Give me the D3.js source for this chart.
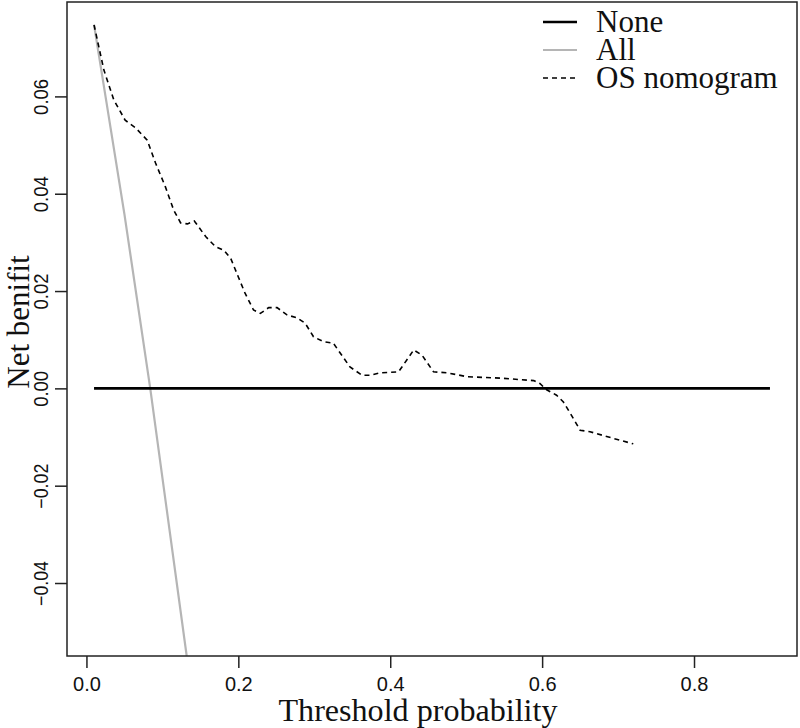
<!DOCTYPE html>
<html>
<head>
<meta charset="utf-8">
<script src="https://cdn.jsdelivr.net/npm/d3@7"></script>
<style>
  html, body { margin: 0; padding: 0; background: #fff; }
  svg { display: block; }
</style>
</head>
<body>
<svg id="chart" width="800" height="728"></svg>
<script>
// ---- data ----
const xTicks = [0.0, 0.2, 0.4, 0.6, 0.8];
const yTicks = [-0.04, -0.02, 0.00, 0.02, 0.04, 0.06];

const noneX = [0.01, 0.90];
const noneY = [0, 0];

const allX = [0.01, 0.05, 0.084, 0.132];
const allY = [0.0747, 0.0358, 0.0, -0.055];

const osX = [0.010, 0.023, 0.036, 0.051, 0.065, 0.080, 0.091, 0.104, 0.115, 0.124, 0.133, 0.142,
             0.157, 0.170, 0.181, 0.190, 0.200, 0.209, 0.220, 0.229, 0.240, 0.251, 0.264, 0.277,
             0.288, 0.299, 0.312, 0.325, 0.347, 0.363, 0.374, 0.387, 0.411, 0.431, 0.442, 0.457,
             0.475, 0.501, 0.545, 0.589, 0.597, 0.606, 0.619, 0.628, 0.637, 0.650, 0.663, 0.685, 0.720];
const osY = [0.0747, 0.0654, 0.0593, 0.0551, 0.0535, 0.0510, 0.0463, 0.0414, 0.0366, 0.0340, 0.0338, 0.0344,
             0.0312, 0.0291, 0.0284, 0.0267, 0.0229, 0.0195, 0.0161, 0.0154, 0.0166, 0.0166, 0.0151, 0.0145,
             0.0134, 0.0106, 0.0096, 0.0093, 0.0044, 0.0027, 0.0027, 0.0032, 0.0034, 0.0079, 0.0068, 0.0034,
             0.0032, 0.0024, 0.0021, 0.0016, 0.0010, -0.0003, -0.0014, -0.0028, -0.0051, -0.0086, -0.0089, -0.0099, -0.0114];

const legendLabels = ["None", "All", "OS nomogram"];

// ---- layout ----
const svg = d3.select("#chart");
const L = 67, R = 797, T = 2, B = 656;

const x = d3.scaleLinear().domain([-0.0256, 0.9356]).range([L, R]);
const y = d3.scaleLinear().domain([-0.0550, 0.0794]).range([B, T]);

svg.append("defs").append("clipPath").attr("id", "plotclip")
  .append("rect").attr("x", L).attr("y", T).attr("width", R - L).attr("height", B - T);

const line = d3.line().x(d => x(d[0])).y(d => y(d[1]));
const g = svg.append("g").attr("clip-path", "url(#plotclip)");

g.append("path").datum(d3.zip(allX, allY))
  .attr("d", line).attr("fill", "none").attr("stroke", "#b5b5b5").attr("stroke-width", 2.2);

g.append("path").datum(d3.zip(noneX, noneY))
  .attr("d", line).attr("fill", "none").attr("stroke", "#000").attr("stroke-width", 2.6);

g.append("path").datum(d3.zip(osX, osY))
  .attr("d", line).attr("fill", "none").attr("stroke", "#000").attr("stroke-width", 1.6)
  .attr("stroke-dasharray", "5,4");

// box
svg.append("rect").attr("x", L).attr("y", T).attr("width", R - L).attr("height", B - T)
  .attr("fill", "none").attr("stroke", "#222").attr("stroke-width", 1.5);

// x axis
const xAxis = d3.axisBottom(x).tickValues(xTicks).tickSize(12).tickPadding(6)
  .tickFormat(d3.format(".1f"));
const gx = svg.append("g").attr("transform", `translate(0,${B})`).call(xAxis);
gx.select(".domain").remove();
gx.selectAll(".tick line").attr("stroke", "#222").attr("stroke-width", 1.5);
gx.selectAll(".tick text").attr("font-family", "'Liberation Sans', Arial, sans-serif")
  .attr("font-size", 20).attr("fill", "#111").attr("dy", null).attr("y", 35);

// y axis
const yAxis = d3.axisLeft(y).tickValues(yTicks).tickSize(12)
  .tickFormat(d3.format(".2f"));
const gy = svg.append("g").attr("transform", `translate(${L},0)`).call(yAxis);
gy.select(".domain").remove();
gy.selectAll(".tick line").attr("stroke", "#222").attr("stroke-width", 1.5);
gy.selectAll(".tick text")
  .attr("font-family", "'Liberation Sans', Arial, sans-serif")
  .attr("font-size", 20).attr("fill", "#111")
  .attr("x", null).attr("dy", null)
  .attr("text-anchor", "middle")
  .attr("transform", "translate(-19,0) rotate(-90)")
  .text(d => d3.format(".2f")(d).replace("-", "\u2212"))
  .attr("textLength", d => d < 0 ? 45 : 36)
  .attr("lengthAdjust", "spacingAndGlyphs");

// axis titles
svg.append("text").attr("x", 418).attr("y", 721).attr("text-anchor", "middle")
  .attr("font-family", "'Liberation Serif', 'Times New Roman', serif").attr("font-size", 31)
  .attr("fill", "#111").text("Threshold probability")
  .attr("textLength", 279).attr("lengthAdjust", "spacingAndGlyphs");

svg.append("text").attr("transform", "translate(29,322) rotate(-90)").attr("text-anchor", "middle")
  .attr("font-family", "'Liberation Serif', 'Times New Roman', serif").attr("font-size", 31)
  .attr("fill", "#111").text("Net benifit");

// legend
const legColors = ["#000", "#b5b5b5", "#000"];
const legWidths = [2.6, 2.2, 1.6];
const legDash = [null, null, "5,4"];
const lg = svg.append("g");
legendLabels.forEach((lab, i) => {
  const ly = 22 + i * 28;
  lg.append("line").attr("x1", 543).attr("x2", 577).attr("y1", ly).attr("y2", ly)
    .attr("stroke", legColors[i]).attr("stroke-width", legWidths[i])
    .attr("stroke-dasharray", legDash[i]);
  lg.append("text").attr("x", 596).attr("y", ly + 10)
    .attr("font-family", "'Liberation Serif', 'Times New Roman', serif").attr("font-size", 31)
    .attr("fill", "#111").text(lab);
});
</script>
</body>
</html>
